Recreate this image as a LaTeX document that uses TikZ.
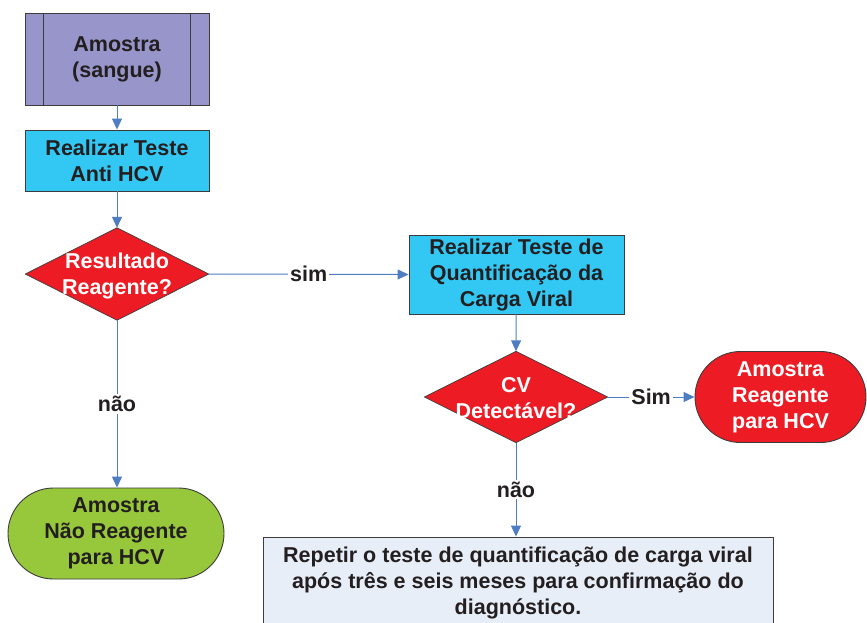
\documentclass[tikz,border=0pt]{standalone}
\usepackage{fontspec}
\setmainfont{Liberation Sans}
\usetikzlibrary{arrows.meta}
\definecolor{purplebox}{RGB}{151,149,201}
\definecolor{cyanbox}{RGB}{51,199,243}
\definecolor{redbox}{RGB}{237,28,36}
\definecolor{greenbox}{RGB}{151,200,60}
\definecolor{palebox}{RGB}{232,238,247}
\definecolor{conn}{RGB}{79,125,195}
\definecolor{txt}{RGB}{35,31,32}
\definecolor{edge}{RGB}{60,60,60}
\tikzset{
  base/.style={inner sep=0pt, align=center, font=\fontsize{21.5}{26}\selectfont\bfseries, text=txt},
  procbox/.style={base, draw=edge, line width=0.9pt, rectangle},
  decbox/.style={base, text=white, rectangle, draw=none},
  termbox/.style={base, draw=edge, line width=0.9pt, rectangle, rounded corners=45.5pt},
  link/.style={draw=conn, line width=1pt, -{Triangle[length=11pt,width=10pt]}},
  lbl/.style={base, fill=white, inner sep=2pt}
}
\begin{document}
\begin{tikzpicture}[x=1pt,y=-1pt]
\useasboundingbox (0,0) rectangle (867,622);
\clip (0,0) rectangle (867,622);
% nodes
\node[procbox, fill=purplebox, minimum width=184pt, minimum height=92pt] (n1) at (117,59) {Amostra\\(sangue)};
\draw[draw=edge, line width=0.9pt] (43,13) -- (43,105) (190,13) -- (190,105);
\node[procbox, fill=cyanbox, minimum width=184pt, minimum height=61pt] (n2) at (117,160.5) {Realizar Teste\\Anti HCV};
\node[decbox, minimum width=183pt, minimum height=92pt] (d1) at (117,274) {};
\fill[redbox, draw=edge, line width=0.7pt] (d1.north) -- (d1.east) -- (d1.south) -- (d1.west) -- cycle;
\node[decbox] at (117,276) {Resultado\\Reagente?};
\node[procbox, fill=cyanbox, minimum width=215pt, minimum height=79pt] (n3) at (516.5,274.5) {Realizar Teste de\\Quantificação da\\Carga Viral};
\node[decbox, minimum width=183pt, minimum height=91pt] (d2) at (516,397) {};
\fill[redbox, draw=edge, line width=0.7pt] (d2.north) -- (d2.east) -- (d2.south) -- (d2.west) -- cycle;
\node[decbox] at (516,398) {CV\\Detectável?};
\node[termbox, fill=redbox, text=white, minimum width=171pt, minimum height=91pt] (t1) at (780.5,397) {Amostra\\Reagente\\para HCV};
\node[termbox, fill=greenbox, minimum width=216pt, minimum height=91pt] (t2) at (116,533.5) {Amostra\\Não Reagente\\para HCV};
\node[procbox, fill=palebox, minimum width=510pt, minimum height=92pt] (n4) at (518,583) {Repetir o teste de quantificação de carga viral\\após três e seis meses para confirmação do\\diagnóstico.};
% connectors
\draw[link] (n1) -- (n2);
\draw[link] (n2) -- (d1.north);
\draw[link] (d1.east) -- node[lbl] {sim} (n3.west);
\draw[link] (n3) -- (d2.north);
\draw[link] (d1.south) -- node[lbl] {não} (t2.north -| d1.south);
\draw[link] (d2.east) -- node[lbl, pos=0.5] {Sim} (t1.west);
\draw[link] (d2.south) -- node[lbl] {não} (n4.north -| d2.south);
\end{tikzpicture}
\end{document}
